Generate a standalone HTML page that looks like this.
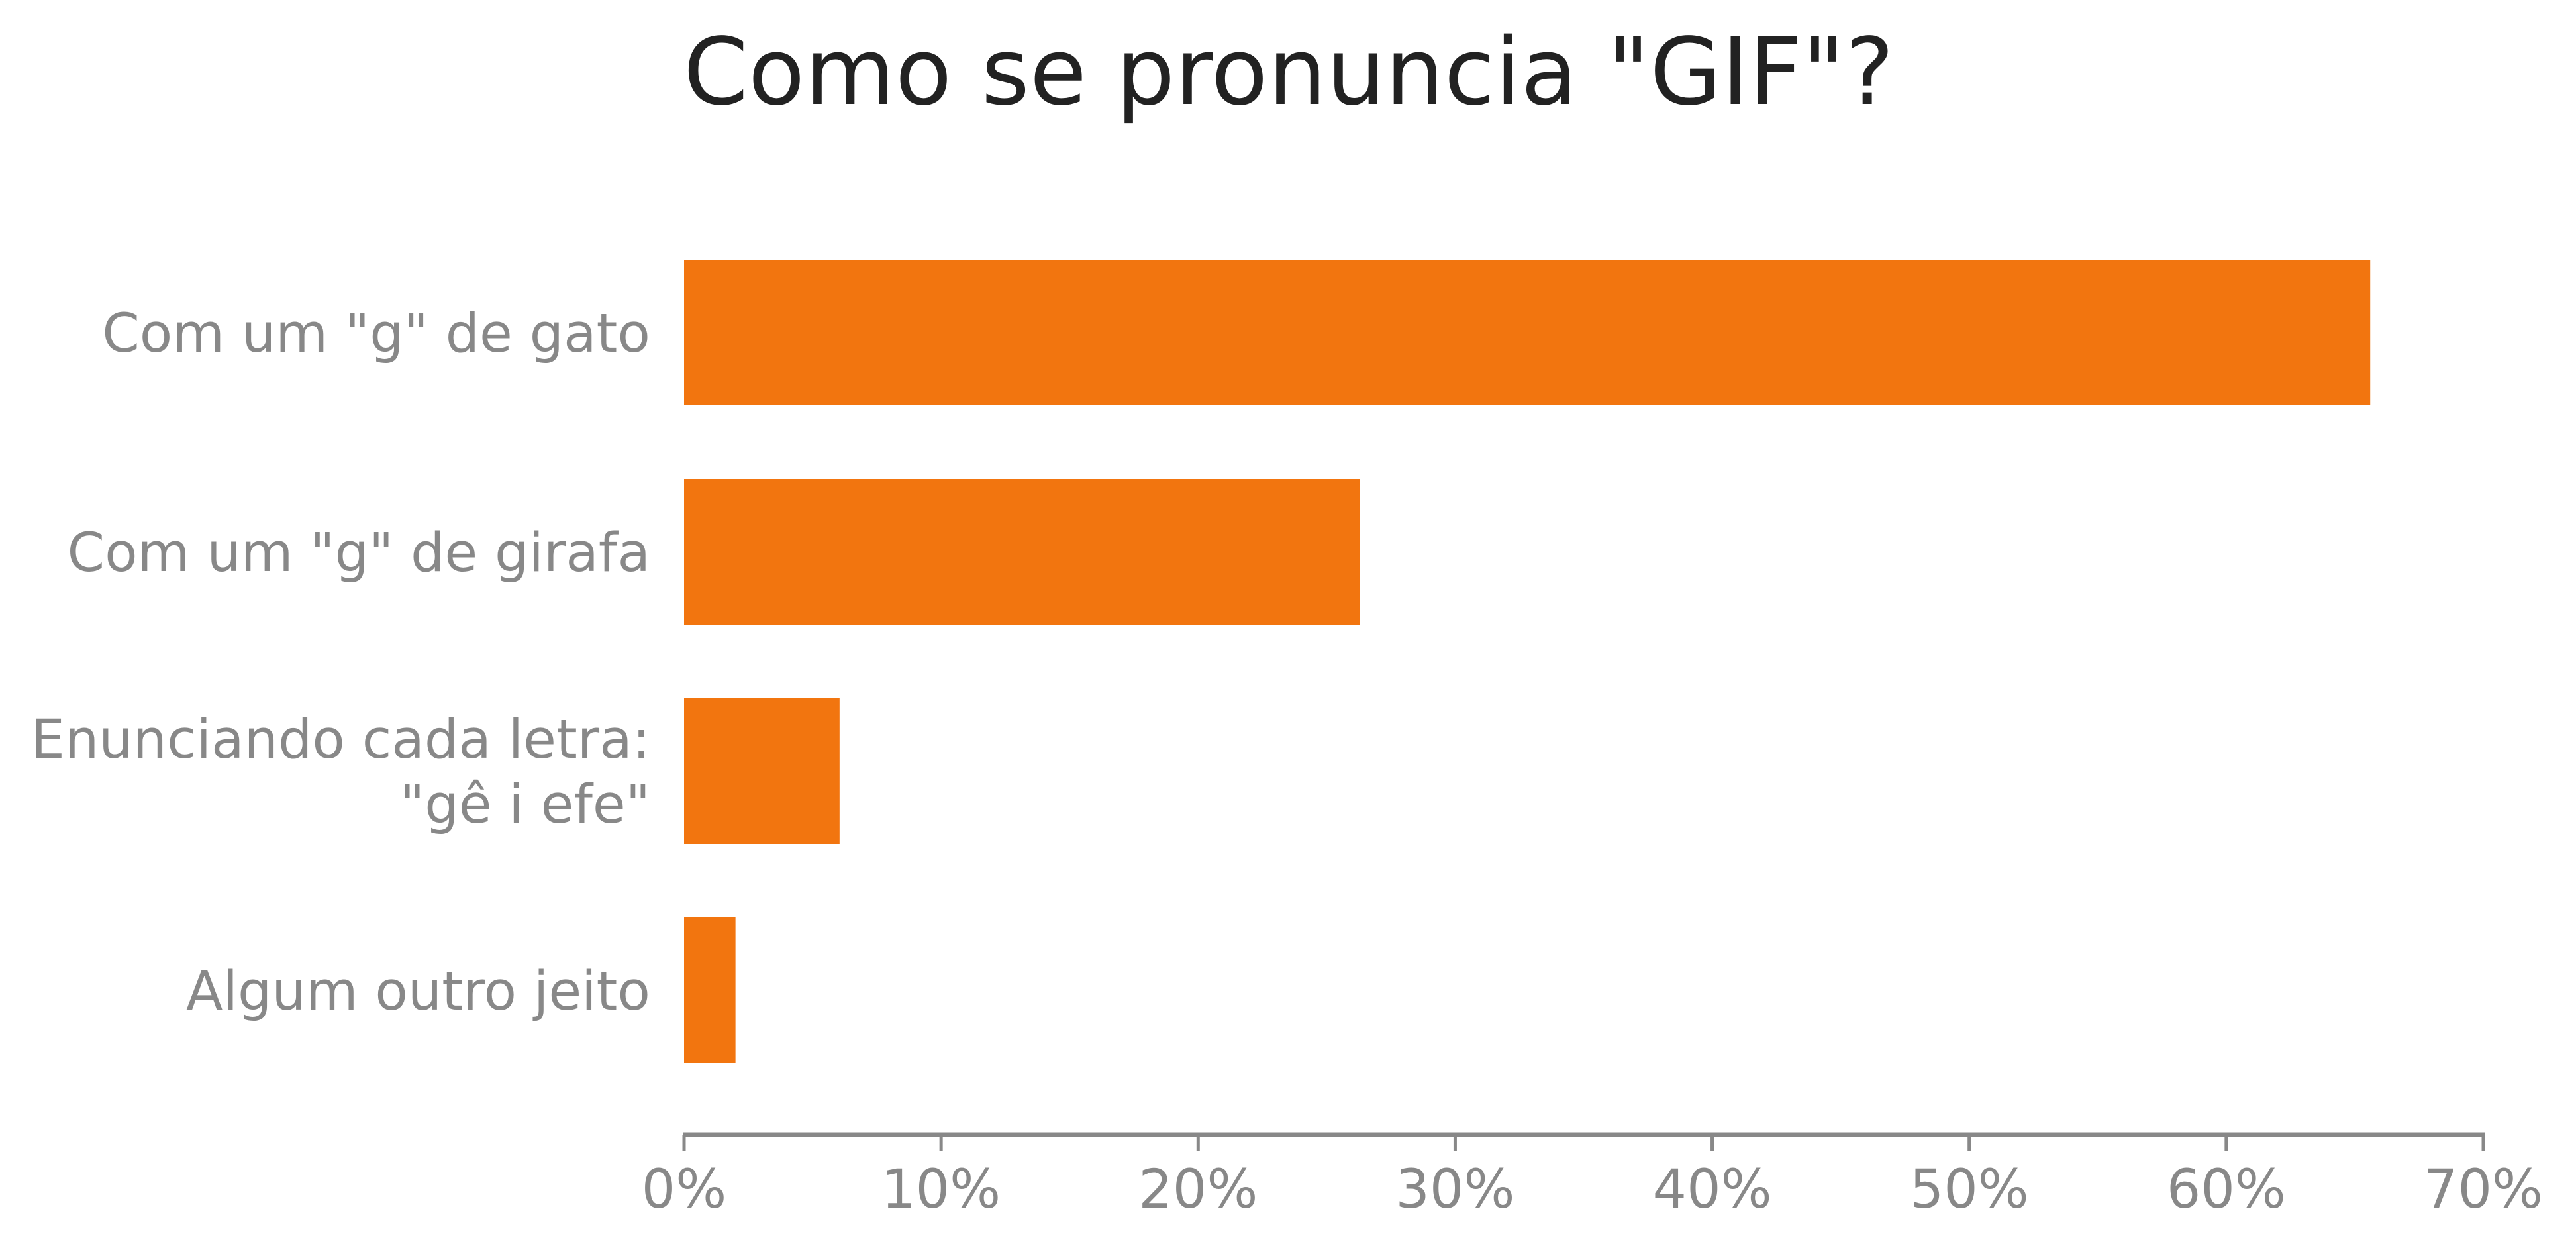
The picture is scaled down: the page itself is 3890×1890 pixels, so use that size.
<!DOCTYPE html>
<html><head><meta charset="utf-8"><style>
html,body{margin:0;padding:0;background:#fff;}
svg{display:block;font-family:"DejaVu Sans","Liberation Sans",sans-serif;}
</style></head><body>
<svg id="chart" width="3890" height="1890" viewBox="0 0 3890 1890" xmlns="http://www.w3.org/2000/svg">
<rect width="3890" height="1890" fill="#fff"/>
<text x="1032" y="157" font-size="140" fill="#222">Como se pronuncia "GIF"?</text>
<g id="bars"></g>
<g id="ylabels"></g>
<g id="xaxis"></g>
</svg>
<script>
const categories = [['Com um "g" de gato'], ['Com um "g" de girafa'], ['Enunciando cada letra:', '"gê i efe"'], ['Algum outro jeito']];
const values = [65.6, 26.3, 6.05, 2.0];
const xTicks = [0, 10, 20, 30, 40, 50, 60, 70];
const xTickLabels = ['0%', '10%', '20%', '30%', '40%', '50%', '60%', '70%'];

const NS = 'http://www.w3.org/2000/svg';
const x0 = 1033, x1 = 3750, xMax = 70;
const xs = v => x0 + (v / xMax) * (x1 - x0);
const bandTop = 392, bandStep = 331, barH = 220;
const yc = i => bandTop + i * bandStep + barH / 2;
function mk(tag, attrs, parent) { const e = document.createElementNS(NS, tag); for (const k in attrs) e.setAttribute(k, attrs[k]); parent.appendChild(e); return e; }

const gb = document.getElementById('bars');
const gl = document.getElementById('ylabels');
values.forEach((v, i) => {
  const r = mk('rect', {x: xs(0), y: yc(i) - barH / 2, width: xs(v) - xs(0), height: barH, fill: '#F2750F'}, gb);
  
  
  const lines = categories[i];
  const lh = 98;
  lines.forEach((ln, j) => {
    const t = mk('text', {x: 982, y: yc(i) + 29 + (j - (lines.length - 1) / 2) * lh, 'font-size': 81, fill: '#888', 'text-anchor': 'end'}, gl);
    t.textContent = ln;
    
    
  });
});

const gx = document.getElementById('xaxis');
const axis = mk('line', {x1: x0 - 2, x2: x1 + 2, y1: 1713, y2: 1713, stroke: '#888', 'stroke-width': 7}, gx);


xTicks.forEach((t, i) => {
  const tk = mk('line', {x1: xs(t), x2: xs(t), y1: 1713, y2: 1737, stroke: '#888', 'stroke-width': 5}, gx);
  
  
  const lb = mk('text', {x: xs(t), y: 1823, 'font-size': 81, fill: '#888', 'text-anchor': 'middle'}, gx);
  lb.textContent = xTickLabels[i];
  
  
});
</script>
</body></html>
